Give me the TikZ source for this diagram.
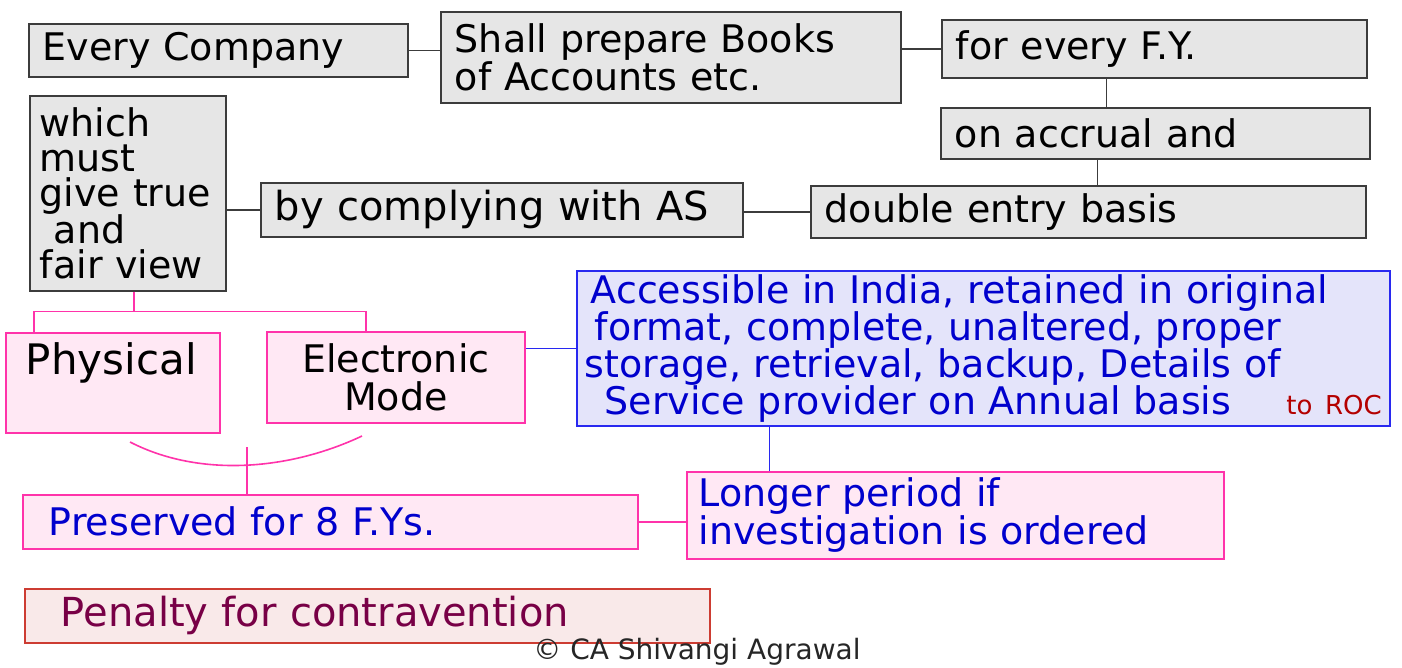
\documentclass[tikz,border=0pt]{standalone}
\usepackage{fontspec}
\setmainfont{DejaVu Sans}
\usetikzlibrary{calc}
\definecolor{boxgrey}{RGB}{230,230,230}
\definecolor{edgegrey}{RGB}{60,60,60}
\definecolor{pastelpink}{RGB}{255,232,244}
\definecolor{hotpink}{RGB}{255,51,170}
\definecolor{pastellavender}{RGB}{228,228,250}
\definecolor{edgeblue}{RGB}{40,40,240}
\definecolor{inkblue}{RGB}{0,0,205}
\definecolor{rocred}{RGB}{180,0,0}
\definecolor{pastelrose}{RGB}{249,233,233}
\definecolor{brickred}{RGB}{205,60,50}
\definecolor{inkmaroon}{RGB}{120,0,70}
\newcommand\handfont{\fontsize{38}{38}\selectfont}
\tikzset{
  note/.style={
    draw=edgegrey,
    fill=boxgrey,
    line width=1.6pt,
    align=left,
    inner xsep=14pt,
    inner ysep=4pt,
    font=\handfont
  },
  pinknote/.style={
    note,
    draw=hotpink,
    fill=pastelpink
  },
  bluenote/.style={
    note,
    draw=edgeblue,
    fill=pastellavender,
    text=inkblue
  },
  rednote/.style={
    note,
    draw=brickred,
    fill=pastelrose,
    text=inkmaroon
  },
  link/.style={line width=1.6pt, edgegrey},
  pinklink/.style={line width=1.6pt, hotpink},
  bluelink/.style={line width=1.6pt, edgeblue}
}

\begin{document}
\begin{tikzpicture}[x=1pt,y=-1pt]
\useasboundingbox (0,0) rectangle (1402,667);
% top row
\node[note,anchor=north west,text width=351pt,minimum height=53pt] (company) at (28,23) {Every Company};
\node[note,anchor=north west,text width=432pt,minimum height=91pt] (books) at (440,11) {Shall prepare Books\\of Accounts etc.};
\node[note,anchor=north west,text width=397pt,minimum height=58pt] (everyfy) at (941,19) {for every F.Y.};
\node[note,anchor=north west,text width=401pt,minimum height=51pt] (accrual) at (940,107) {on accrual and};
\node[note,anchor=north west,text width=527pt,minimum height=52pt] (double) at (810,185) {double entry basis};
\node[note,anchor=north west,text width=454pt,minimum height=54pt,
  font=\fontsize{40}{40}\selectfont] (complying) at (260,182) {by complying with AS};
\node[note,anchor=north west,inner xsep=10pt,text width=176pt,minimum height=195pt,
  font=\fontsize{38}{35}\selectfont] (which) at (29,95) {which\\must\\give true\\\hspace*{14pt}and\\fair view};
% modes
\node[pinknote,anchor=north west,inner xsep=20pt,text width=174pt,inner ysep=12pt,
  text height=30pt,text depth=46pt,font=\fontsize{42}{42}\selectfont] (physical) at (5,332) {Physical};
\node[pinknote,anchor=north west,align=center,text width=230pt,minimum height=91pt] (electronic) at (266,331) {Electronic\\Mode};
\node[bluenote,anchor=north west,inner xsep=8pt,text width=797pt,minimum height=155pt,
  inner ysep=2pt,font=\fontsize{38}{37}\selectfont] (access) at (576,270)
  {\hspace*{6pt}Accessible in India, retained in original\\
   \hspace*{10pt}format, complete, unaltered, proper\\
   storage, retrieval, backup, Details of\\
   \hspace*{20pt}Service provider on Annual basis\hfill{\color{rocred}\fontsize{26}{26}\selectfont to ROC}};
% preservation
\node[pinknote,anchor=north west,inner xsep=26pt,text width=563pt,minimum height=54pt,text=inkblue] (preserved) at (22,494) {Preserved for 8 F.Ys.};
\node[pinknote,anchor=north west,inner xsep=12pt,text width=513pt,minimum height=87pt,text=inkblue] (longer) at (686,471) {Longer period if\\investigation is ordered};
\node[rednote,anchor=north west,inner xsep=36pt,text width=613pt,minimum height=54pt,
  font=\fontsize{40}{40}\selectfont] (penalty) at (24,588) {Penalty for contravention};
\node[text=black!85,font=\fontsize{28}{28}\selectfont,anchor=base,inner sep=0pt] (credit) at (697,659) {© CA Shivangi Agrawal};
% grey links
\draw[link] (company.east) -- (company.east -| books.west);
\draw[link] (everyfy.west -| books.east) -- (everyfy.west);
\draw[link] ([xshift=-48pt]everyfy.south) -- ([xshift=-48pt]everyfy.south |- accrual.north);
\draw[link] ([xshift=-58pt]accrual.south) -- ([xshift=-58pt]accrual.south |- double.north);
\draw[link] (double.west) -- (double.west -| complying.east);
\draw[link] (complying.west -| which.east) -- (complying.west);
% pink links
\draw[pinklink] ([xshift=6pt]which.south) -- ++(0,20) coordinate (fork);
\draw[pinklink] ([xshift=-79pt]physical.north) |- (fork) -| ([xshift=-30pt]electronic.north);
\coordinate (arcL) at (130,442);
\coordinate (arcR) at (362,436);
\coordinate (merge) at (247,447);
\draw[pinklink] (arcL) .. controls (200,478) and (290,470) .. (arcR);
\draw[pinklink] (merge) -- (merge |- preserved.north);
\draw[pinklink] (preserved.east) -- (preserved.east -| longer.west);
% blue links
\draw[bluelink] (access.west -| electronic.east) -- (access.west);
\draw[bluelink] ([xshift=-214pt]access.south) -- ([xshift=-214pt]access.south |- longer.north);
\end{tikzpicture}
\end{document}
